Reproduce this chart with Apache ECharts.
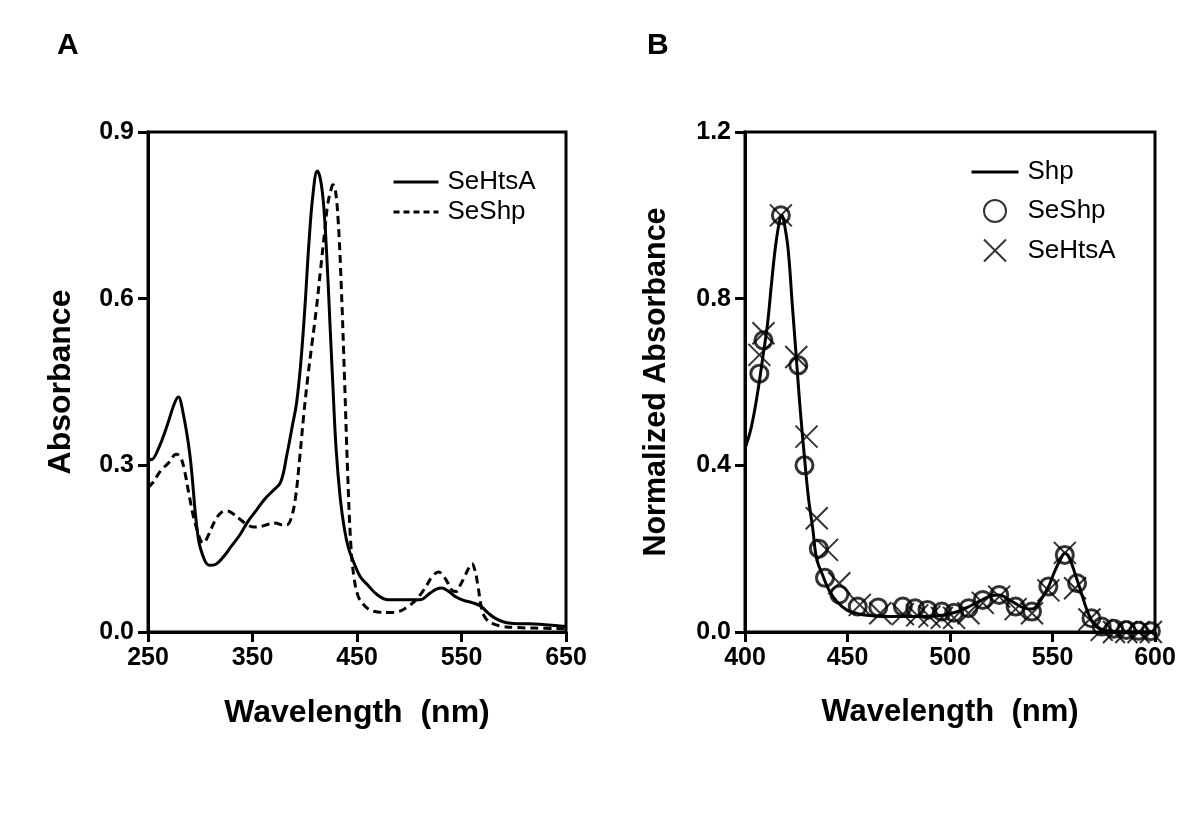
<!DOCTYPE html>
<html>
<head>
<meta charset="utf-8">
<script src="https://cdn.jsdelivr.net/npm/echarts@6/dist/echarts.min.js"></script>
<style>html,body{margin:0;padding:0;background:#fff}#c{width:1200px;height:819px}</style>
</head>
<body>
<div id="c"></div>
<script>
// Panel A: absorbance spectra
const aHtsaWl = [250,253,260,268,275,279,283,290,298,304,309,315,322,330,338,346,354,362,370,377,383,388,392,396,400,404,408,412,415,418,421,424,427,430,434,438,442,447,453,460,470,480,495,510,520,526,531,537,544,552,560,568,575,582,592,603,615,630,650];
const aHtsaAbs = [0.315,0.31,0.33,0.37,0.41,0.423,0.40,0.32,0.17,0.13,0.12,0.122,0.135,0.155,0.175,0.2,0.22,0.24,0.255,0.27,0.32,0.37,0.41,0.48,0.58,0.7,0.79,0.83,0.815,0.77,0.68,0.56,0.44,0.33,0.24,0.185,0.15,0.125,0.1,0.085,0.066,0.058,0.058,0.058,0.07,0.077,0.079,0.074,0.064,0.057,0.053,0.047,0.035,0.025,0.017,0.015,0.015,0.013,0.01];
const aShpWl = [250,255,262,270,277,281,285,290,296,303,308,314,320,326,332,338,345,351,358,365,372,378,383,387,391,395,399,403,407,411,415,419,422,425,427,429,432,435,438,441,444,447,451,456,462,470,480,490,498,505,511,517,522,528,533,537,541,545,549,553,557,560,563,566,569,573,580,590,603,620,650];
const aShpAbs = [0.26,0.27,0.29,0.305,0.32,0.315,0.29,0.24,0.19,0.16,0.175,0.2,0.215,0.218,0.212,0.203,0.193,0.189,0.19,0.194,0.196,0.193,0.193,0.205,0.24,0.31,0.39,0.46,0.52,0.58,0.65,0.72,0.77,0.795,0.805,0.8,0.74,0.62,0.46,0.29,0.16,0.1,0.065,0.05,0.04,0.036,0.035,0.037,0.045,0.055,0.068,0.085,0.1,0.108,0.1,0.088,0.075,0.073,0.085,0.1,0.115,0.123,0.11,0.08,0.045,0.025,0.015,0.01,0.008,0.007,0.006];

// Panel B: normalized absorbance
const bShpWl = [400,403,406,409,411,413,415,417,418,419,421,423,425,427,429,431,433,435,438,441,445,450,455,462,470,480,490,497,503,508,512,516,520,524,528,532,536,540,544,548,551,554,556,558,561,564,567,570,573,577,585,600];
const bShpAbs = [0.44,0.49,0.57,0.67,0.74,0.84,0.93,0.99,1.0,0.985,0.92,0.79,0.66,0.53,0.42,0.32,0.25,0.175,0.135,0.1,0.072,0.052,0.044,0.039,0.037,0.037,0.038,0.041,0.048,0.058,0.068,0.078,0.087,0.089,0.08,0.068,0.058,0.055,0.075,0.108,0.145,0.175,0.189,0.18,0.14,0.095,0.05,0.02,0.008,0.003,0.0,0.0];
const bSeShpWl = [407,409,417.5,426,429,436,439,446,455,465,477,483,489,496,502,509,516,524,532,540,548,556,562,569,574,580,586,592,598];
const bSeShpAbs = [0.62,0.70,1.0,0.64,0.40,0.20,0.13,0.09,0.061,0.059,0.061,0.057,0.053,0.049,0.046,0.057,0.077,0.089,0.061,0.049,0.109,0.185,0.117,0.033,0.013,0.008,0.005,0.003,0.002];
const bSeHtsaWl = [407,409,417.5,425,430,435,440,446,456,466,477,484,490,496,502,509,516,524,532,540,548,556,561,568,574,580,586,592,598];
const bSeHtsaAbs = [0.665,0.717,1.0,0.66,0.469,0.273,0.197,0.117,0.065,0.045,0.043,0.04,0.037,0.034,0.034,0.045,0.07,0.085,0.055,0.045,0.10,0.19,0.105,0.03,0.005,0.0,0.0,0.0,0.0];

const aXTicks = [250, 650, 100];
const aYTicks = [0, 0.9, 0.3];
const bXTicks = [400, 600, 50];
const bYTicks = [0, 1.2, 0.4];

const zip = (xs, ys) => xs.map((x, i) => [x, ys[i]]);
const FONT = 'Liberation Sans, Arial, sans-serif';

function xAxis(idx, t, fs) {
  return {
    type: 'value', gridIndex: idx, min: t[0], max: t[1], interval: t[2],
    name: 'Wavelength  (nm)', nameLocation: 'middle', nameGap: 65,
    nameTextStyle: { fontFamily: FONT, fontWeight: 'bold', fontSize: fs, color: '#000' },
    axisLine: { show: true, lineStyle: { color: '#000', width: 3 } },
    axisTick: { show: true, length: 10, lineStyle: { color: '#000', width: 3 } },
    axisLabel: { fontFamily: FONT, fontWeight: 'bold', fontSize: 25, color: '#000', margin: 14 },
    splitLine: { show: false }
  };
}
function yAxis(idx, t, name, gap, fs) {
  return {
    type: 'value', gridIndex: idx, min: t[0], max: t[1], interval: t[2],
    name: name, nameLocation: 'middle', nameGap: gap, nameRotate: 90,
    nameTextStyle: { fontFamily: FONT, fontWeight: 'bold', fontSize: fs, color: '#000' },
    axisLine: { show: true, lineStyle: { color: '#000', width: 3 } },
    axisTick: { show: true, length: 10, lineStyle: { color: '#000', width: 3 } },
    axisLabel: { fontFamily: FONT, fontWeight: 'bold', fontSize: 25, color: '#000', margin: 14,
      formatter: v => v.toFixed(1) },
    splitLine: { show: false }
  };
}

const crossPath = 'path://M0,0L20,20M20,0L0,20';
const chart = echarts.init(document.getElementById('c'), null, { renderer: 'canvas' });
chart.setOption({
  animation: false,
  backgroundColor: '#fff',
  title: [
    { text: 'A', left: 57, top: 31, padding: 0, textStyle: { fontFamily: FONT, fontWeight: 'bold', fontSize: 30, color: '#000' } },
    { text: 'B', left: 647, top: 31, padding: 0, textStyle: { fontFamily: FONT, fontWeight: 'bold', fontSize: 30, color: '#000' } }
  ],
  grid: [
    { left: 148, top: 132, width: 418, height: 500, show: true, borderColor: '#000', borderWidth: 3, backgroundColor: 'transparent' },
    { left: 745, top: 132, width: 410, height: 500, show: true, borderColor: '#000', borderWidth: 3, backgroundColor: 'transparent' }
  ],
  xAxis: [xAxis(0, aXTicks, 32), xAxis(1, bXTicks, 31)],
  yAxis: [yAxis(0, aYTicks, 'Absorbance', 71, 32), yAxis(1, bYTicks, 'Normalized Absorbance', 73, 30.5)],
  legend: [
    {
      data: [
        { name: 'SeHtsA', itemStyle: { opacity: 0 }, lineStyle: { width: 3 } },
        { name: 'SeShp', itemStyle: { opacity: 0 }, lineStyle: { width: 3, type: [6, 4] } }
      ],
      orient: 'vertical', left: 392, top: 169, padding: 0,
      itemWidth: 45, itemHeight: 14, itemGap: 4, selectedMode: false,
      textStyle: { fontFamily: FONT, fontSize: 26, color: '#000', padding: [0, 0, 0, 4] }
    },
    {
      data: [
        { name: 'B:Shp', itemStyle: { opacity: 0 }, lineStyle: { width: 3 } },
        { name: 'B:SeShp' },
        { name: 'B:SeHtsA' }
      ],
      orient: 'vertical', left: 970, top: 159, padding: 0,
      itemWidth: 47, itemHeight: 22, itemGap: 13, selectedMode: false,
      formatter: n => n.replace('B:', ''),
      textStyle: { fontFamily: FONT, fontSize: 26, color: '#000', padding: [0, 0, 0, 4] }
    }
  ],
  series: [
    {
      name: 'SeHtsA', type: 'line', xAxisIndex: 0, yAxisIndex: 0, symbol: 'none', smooth: 0.4,
      lineStyle: { color: '#000', width: 3 }, itemStyle: { color: '#000' },
      data: zip(aHtsaWl, aHtsaAbs)
    },
    {
      name: 'SeShp', type: 'line', xAxisIndex: 0, yAxisIndex: 0, symbol: 'none', smooth: 0.4,
      lineStyle: { color: '#000', width: 3, type: [8, 5] }, itemStyle: { color: '#000' },
      data: zip(aShpWl, aShpAbs)
    },
    {
      name: 'B:Shp', type: 'line', xAxisIndex: 1, yAxisIndex: 1, symbol: 'none', smooth: 0.4,
      lineStyle: { color: '#000', width: 3 }, itemStyle: { color: '#000' },
      data: zip(bShpWl, bShpAbs)
    },
    {
      name: 'B:SeShp', type: 'scatter', xAxisIndex: 1, yAxisIndex: 1, symbol: 'circle', symbolSize: 17,
      itemStyle: { color: 'rgba(0,0,0,0)', borderColor: '#000', borderWidth: 3 },
      data: zip(bSeShpWl, bSeShpAbs)
    },
    {
      name: 'B:SeHtsA', type: 'scatter', xAxisIndex: 1, yAxisIndex: 1, symbol: crossPath, symbolSize: 22,
      itemStyle: { color: 'none', borderColor: '#000', borderWidth: 2 },
      data: zip(bSeHtsaWl, bSeHtsaAbs)
    }
  ]
});
</script>
</body>
</html>
